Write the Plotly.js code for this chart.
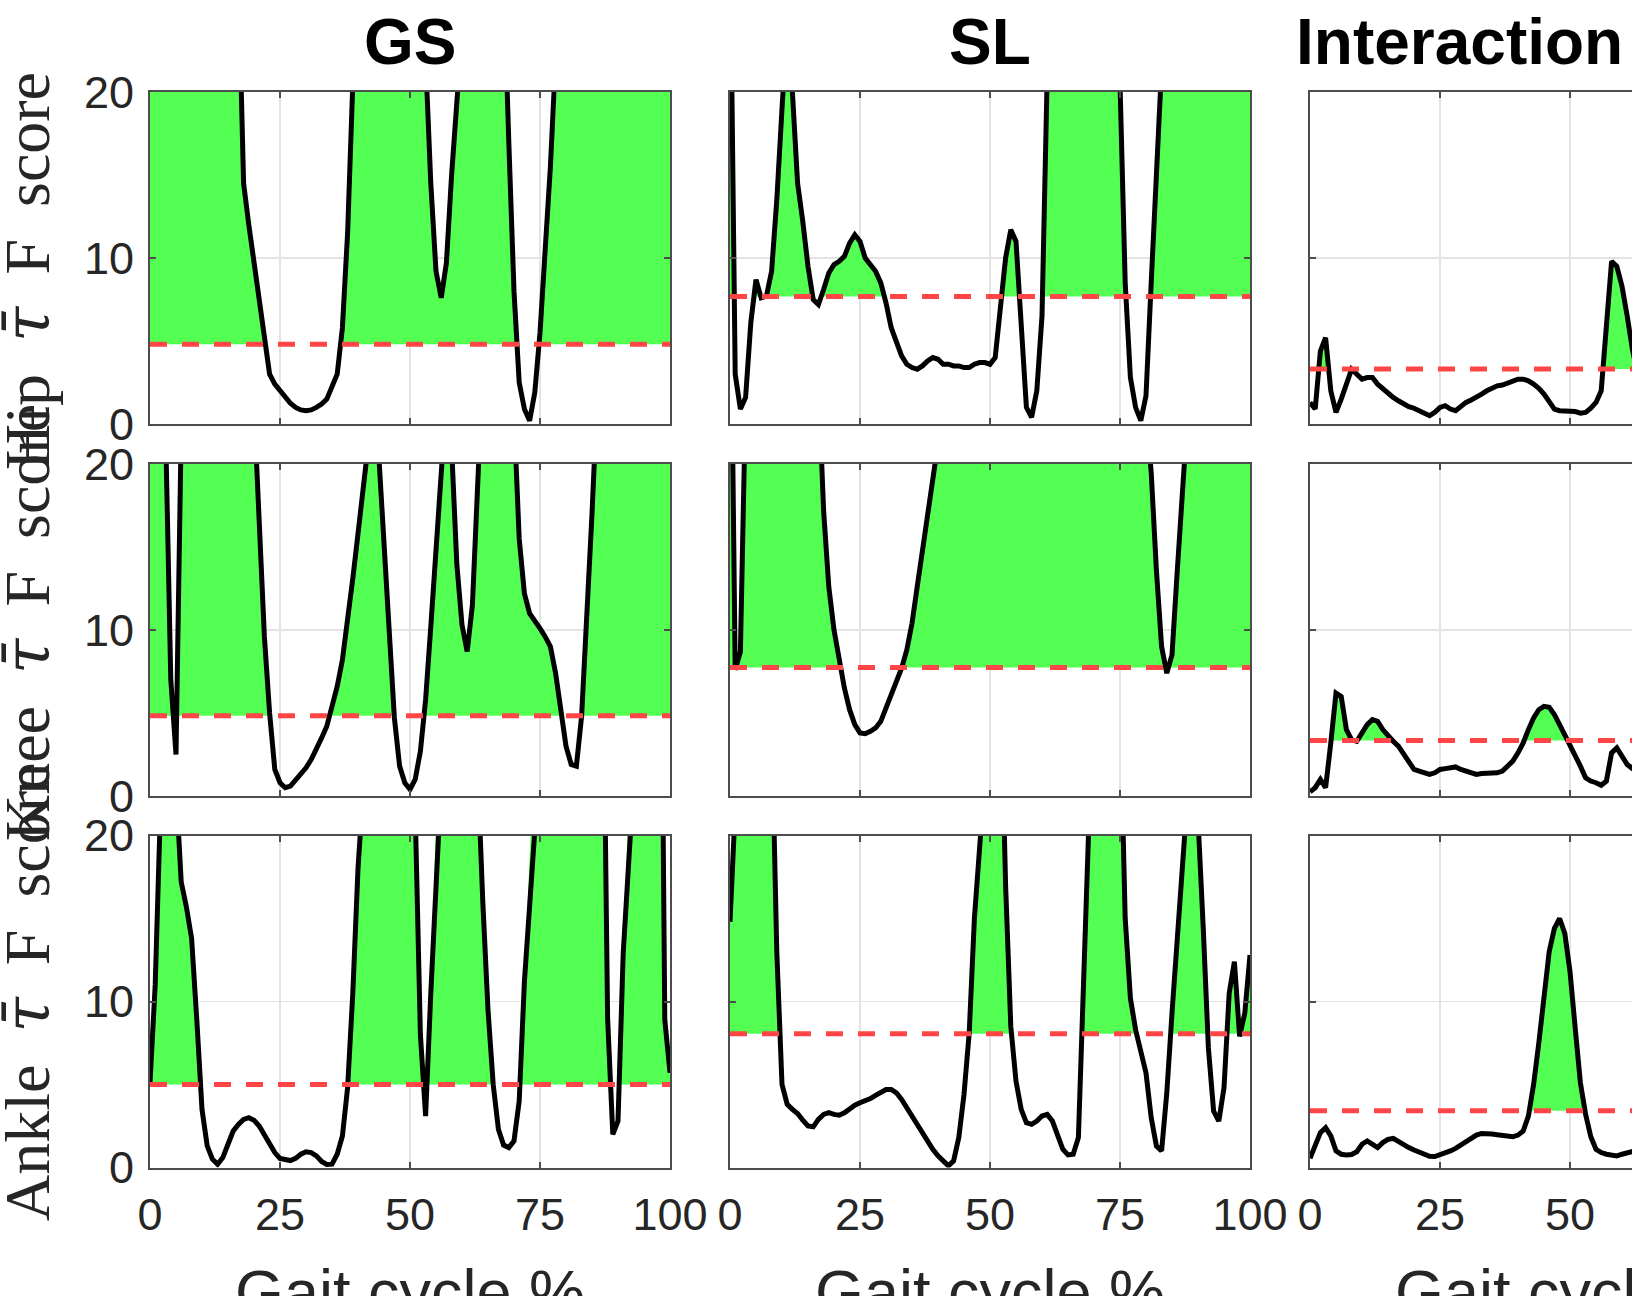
<!DOCTYPE html>
<html>
<head>
<meta charset="utf-8">
<script src="https://cdn.plot.ly/plotly-3.0.1.min.js"></script>
<style>
  html, body { margin: 0; padding: 0; overflow: hidden; background: #ffffff; }
  #chart { width: 1900px; height: 1296px; }
</style>
</head>
<body>
<div id="chart"></div>
<script>
// Gait cycle sample positions (percent)
const gaitPct = Array.from({ length: 101 }, (_, i) => i);

// Column titles, joint labels and tick labels
const columnTitles = ['GS', 'SL', 'Interaction'];
const jointNames = ['Hip', 'Knee', 'Ankle'];
const xLabelText = 'Gait cycle %';
const xTickVals = [0, 25, 50, 75, 100];
const xTickText = ['0', '25', '50', '75', '100'];
const yTickVals = [0, 10, 20];
const yTickText = ['0', '10', '20'];

// Critical F values (hip, knee, ankle) for each effect
const critGS = [4.8, 4.83, 5.0];
const critSL = [7.68, 7.74, 8.05];
const critInt = [3.32, 3.35, 3.42];

// F scores, GS effect
const gsHip = [48, 50, 52, 53, 54, 54, 53, 52, 50, 48, 46, 44, 42, 40, 38, 35, 31, 27, 14.5, 12.0,
  9.8, 7.6, 5.0, 3.0, 2.4, 2.0, 1.6, 1.25, 1.0, 0.85, 0.8, 0.85, 1.0, 1.2, 1.5, 2.2, 3.0, 5.8, 11.5, 20.5,
  30, 37, 42, 45, 47, 47, 46, 44, 41, 38, 35, 31, 27, 22, 14.5, 9.2, 7.6, 9.7, 15, 23,
  30, 35, 39, 41, 41, 39, 36, 32, 27, 17, 8, 2.5, 0.9, 0.2, 1.9, 5.5, 10, 15.5, 22, 30,
  36, 41, 45, 48, 50, 51, 52, 52, 51, 50, 49, 48, 47, 46, 45, 44, 43, 42, 41, 40, 39];
const gsKnee = [40, 45, 42, 22, 7.0, 2.5, 22, 35, 42, 45, 46, 46, 45, 43, 41, 38, 35, 32, 29, 27,
  23.5, 16.8, 9.6, 5.0, 1.6, 0.8, 0.5, 0.6, 0.95, 1.3, 1.7, 2.2, 2.8, 3.5, 4.2, 5.3, 6.6, 8.2, 10.5, 13.1,
  15.8, 18.4, 21.5, 24, 20.5, 15.6, 9.8, 4.7, 1.8, 0.8, 0.4, 1.0, 2.7, 5.8, 10.2, 14.8, 18.5, 24, 21, 14.0,
  10.3, 8.7, 11.5, 20.5, 30, 36, 40, 38, 34, 28, 23, 15.5, 12.2, 11.0, 10.6, 10.1, 9.6, 9.0, 7.4, 5.2,
  3.0, 1.9, 1.8, 4.8, 10.5, 17, 24, 30, 35, 39, 42, 44, 45, 45, 44, 43, 42, 41, 40, 39, 38];
const gsAnkle = [5.1, 11.0, 21.5, 30, 33, 23, 17.2, 15.7, 13.8, 8.9, 3.5, 1.3, 0.5, 0.2, 0.6, 1.4, 2.2, 2.6, 2.9, 3.0,
  2.85, 2.5, 2.0, 1.5, 0.9, 0.55, 0.45, 0.42, 0.55, 0.8, 0.95, 0.9, 0.7, 0.36, 0.18, 0.2, 0.8, 1.9, 4.8, 10.5,
  18.0, 26, 32, 37, 40, 42, 42, 40, 37, 33, 28, 21.5, 8.0, 3.1, 10.5, 21.0, 28, 33, 36, 37,
  36, 33, 29, 24, 16, 9.5, 5.0, 2.3, 1.35, 1.2, 1.6, 4.0, 11.2, 18.5, 26, 32, 37, 40, 42, 43,
  43, 42, 41, 40, 39, 38, 37, 35, 9.0, 2.0, 2.8, 12.9, 21.5, 30, 36, 40, 43, 44, 45, 8.9, 5.7];

// F scores, SL effect
const slHip = [30, 3.0, 0.9, 1.6, 6.1, 8.7, 7.6, 7.7, 9.2, 13.5, 19, 24, 20, 14.5, 12.2, 9.5, 7.5, 7.2, 8.1, 9.1,
  9.6, 9.8, 10.1, 10.9, 11.4, 11.0, 10.0, 9.6, 9.2, 8.5, 7.3, 5.8, 4.9, 4.1, 3.6, 3.4, 3.3, 3.5, 3.8, 4.0,
  3.9, 3.6, 3.6, 3.5, 3.5, 3.4, 3.4, 3.6, 3.7, 3.7, 3.6, 4.0, 7.0, 10.0, 11.7, 11.0, 6.0, 1.0, 0.4, 2.0,
  6.5, 21, 30, 36, 40, 42, 43, 43, 42, 40, 38, 35, 32, 28, 25, 20.5, 8.5, 2.8, 1.0, 0.2,
  1.7, 8.5, 15.5, 22, 28, 33, 37, 40, 42, 43, 44, 44, 44, 43, 42, 41, 40, 39, 38, 37, 36];
const slKnee = [35, 7.6, 8.7, 24, 33, 38, 41, 42, 42, 41, 40, 38, 36, 34, 32, 30, 28, 25, 17.2, 12.6,
  10.0, 8.2, 6.5, 5.2, 4.3, 3.8, 3.75, 3.9, 4.1, 4.5, 5.3, 6.1, 6.8, 7.7, 8.8, 10.4, 12.6, 15.0, 17.6, 20.3,
  23, 26, 29, 32, 35, 38, 40, 42, 43, 44, 45, 45, 46, 46, 46, 46, 45, 45, 44, 44,
  43, 43, 42, 41, 40, 39, 38, 37, 36, 35, 34, 33, 32, 31, 30, 29, 28, 27, 26, 25,
  23, 19.5, 13.6, 9.0, 7.4, 8.5, 13.5, 21, 28, 33, 37, 40, 42, 43, 44, 44, 44, 43, 42, 41, 40];
const slAnkle = [14.8, 28, 36, 40, 42, 41, 38, 33, 27, 13, 5.0, 3.8, 3.5, 3.25, 2.85, 2.5, 2.45, 2.9, 3.2, 3.3,
  3.2, 3.15, 3.3, 3.55, 3.75, 3.9, 4.0, 4.15, 4.35, 4.55, 4.7, 4.7, 4.5, 4.1, 3.6, 3.05, 2.5, 2.0, 1.5, 1.1,
  0.7, 0.35, 0.1, 0.4, 1.8, 4.4, 8.1, 15.0, 19.3, 26, 30, 32, 30, 17, 8.5, 5.2, 3.5, 2.7, 2.6, 2.8,
  3.1, 3.2, 2.8, 1.9, 1.1, 0.76, 0.8, 1.8, 10.9, 22, 30, 35, 37, 36, 33, 28, 15, 10.2, 8.3, 6.9,
  5.7, 3.0, 1.3, 1.0, 4.5, 9.3, 14.0, 17.8, 22.5, 26, 21, 14.5, 7.2, 3.4, 2.8, 4.8, 10.5, 12.4, 7.9, 9.3, 12.8];

// F scores, GS x SL interaction
const intHip = [1.3, 0.9, 4.4, 5.2, 2.0, 0.7, 1.5, 2.4, 3.3, 3.0, 2.7, 2.8, 2.8, 2.4, 2.1, 1.8, 1.6, 1.4, 1.2, 1.05,
  0.95, 0.8, 0.6, 0.5, 0.7, 1.0, 1.1, 0.9, 0.8, 1.1, 1.3, 1.45, 1.6, 1.8, 2.0, 2.15, 2.3, 2.35, 2.45, 2.6,
  2.7, 2.7, 2.6, 2.4, 2.15, 1.8, 1.3, 0.9, 0.8, 0.8, 0.8, 0.75, 0.65, 0.7, 0.95, 1.3, 2.0, 6.3, 9.8, 9.5,
  8.3, 6.5, 4.5, 3.0];
const intKnee = [0.25, 0.5, 1.0, 0.5, 3.2, 6.2, 6.0, 4.0, 3.4, 3.3, 3.8, 4.3, 4.6, 4.5, 4.0, 3.6, 3.3, 3.0, 2.5, 2.0,
  1.6, 1.5, 1.4, 1.3, 1.4, 1.6, 1.65, 1.7, 1.75, 1.6, 1.5, 1.4, 1.3, 1.35, 1.37, 1.38, 1.4, 1.5, 1.8, 2.1,
  2.6, 3.2, 4.0, 4.7, 5.2, 5.4, 5.35, 4.9, 4.3, 3.7, 3.1, 2.5, 1.8, 1.1, 0.9, 0.8, 0.65, 0.9, 2.6, 2.9,
  2.4, 1.9, 1.65, 1.5];
const intAnkle = [0.55, 1.4, 2.1, 2.4, 1.9, 1.0, 0.8, 0.76, 0.78, 0.95, 1.4, 1.6, 1.4, 1.2, 1.5, 1.7, 1.75, 1.55, 1.35, 1.2,
  1.05, 0.9, 0.8, 0.68, 0.66, 0.75, 0.85, 1.0, 1.15, 1.35, 1.6, 1.8, 1.95, 2.05, 2.07, 2.02, 1.97, 1.92, 1.87, 1.85,
  1.95, 2.2, 3.1, 5.0, 7.5, 10.6, 13.0, 14.4, 15.0, 14.1, 11.8, 8.4, 5.1, 3.2, 1.85, 1.1, 0.9, 0.8, 0.72, 0.7,
  0.8, 0.87, 0.96, 1.05];

// Grid of panels: rows = joints, columns = effects
const panelRows = [
  [{ f: gsHip, crit: critGS[0] }, { f: slHip, crit: critSL[0] }, { f: intHip, crit: critInt[0] }],
  [{ f: gsKnee, crit: critGS[1] }, { f: slKnee, crit: critSL[1] }, { f: intKnee, crit: critInt[1] }],
  [{ f: gsAnkle, crit: critGS[2] }, { f: slAnkle, crit: critSL[2] }, { f: intAnkle, crit: critInt[2] }]
];

// Figure geometry (pixels)
const FIG_W = 1900, FIG_H = 1296;
const colLeft = [150, 730, 1310], colWidth = 520;
const rowTop = [92, 464, 835.5], rowHeight = 332;

const GREEN = '#54ff54';
const RED = '#ff4545';
const AXIS_GRAY = '#4d4d4d';
const TEXT_COLOR = '#262626';
const SANS = 'Liberation Sans, Arial, Helvetica, sans-serif';
const SERIF = 'Liberation Serif, Times New Roman, serif';

// Region between the critical value and the F curve wherever the curve exceeds it
function exceedPolygons(xs, ys, thr) {
  const px = [], py = [];
  let open = false;
  for (let i = 0; i < xs.length; i++) {
    const above = ys[i] > thr;
    if (above) {
      if (!open) {
        let xStart = xs[i];
        if (i > 0) {
          const t = (thr - ys[i - 1]) / (ys[i] - ys[i - 1]);
          xStart = xs[i - 1] + t * (xs[i] - xs[i - 1]);
        }
        px.push(xStart); py.push(thr);
        open = true;
      }
      px.push(xs[i]); py.push(ys[i]);
    } else if (open) {
      const t = (thr - ys[i - 1]) / (ys[i] - ys[i - 1]);
      const xEnd = xs[i - 1] + t * (xs[i] - xs[i - 1]);
      px.push(xEnd); py.push(thr);
      px.push(null); py.push(null);
      open = false;
    }
  }
  if (open) { px.push(xs[xs.length - 1]); py.push(thr); }
  return { x: px, y: py };
}

const axisBase = {
  showline: true, linecolor: AXIS_GRAY, linewidth: 2, mirror: 'ticks',
  ticks: 'inside', ticklen: 6, tickwidth: 2, tickcolor: AXIS_GRAY,
  showgrid: true, gridcolor: '#e3e3e3', gridwidth: 1.5,
  zeroline: false, fixedrange: true,
  tickfont: { family: SANS, size: 45, color: TEXT_COLOR }
};

const traces = [];
const layout = {
  width: FIG_W, height: FIG_H,
  margin: { l: 0, r: 0, t: 0, b: 0 },
  showlegend: false,
  paper_bgcolor: '#ffffff', plot_bgcolor: '#ffffff',
  font: { family: SANS, color: TEXT_COLOR },
  annotations: []
};

panelRows.forEach((row, r) => {
  row.forEach((panel, c) => {
    const k = r * 3 + c + 1;
    const sfx = k === 1 ? '' : String(k);
    const xs = gaitPct.slice(0, panel.f.length);

    const poly = exceedPolygons(xs, panel.f, panel.crit);
    traces.push({
      type: 'scatter', mode: 'lines', x: poly.x, y: poly.y,
      fill: 'toself', fillcolor: GREEN, line: { width: 0, color: GREEN },
      hoverinfo: 'skip', xaxis: 'x' + sfx, yaxis: 'y' + sfx
    });
    traces.push({
      type: 'scatter', mode: 'lines', x: xs, y: panel.f,
      line: { color: '#000000', width: 5 },
      xaxis: 'x' + sfx, yaxis: 'y' + sfx
    });
    traces.push({
      type: 'scatter', mode: 'lines', x: [0, 100], y: [panel.crit, panel.crit],
      line: { color: RED, width: 5, dash: '17px,15px' },
      xaxis: 'x' + sfx, yaxis: 'y' + sfx
    });

    const left = colLeft[c], top = rowTop[r];
    layout['xaxis' + sfx] = Object.assign({}, axisBase, {
      domain: [left / FIG_W, (left + colWidth) / FIG_W],
      range: [0, 100], tickmode: 'array', tickvals: xTickVals, ticktext: xTickText,
      showticklabels: r === 2, ticklabelstandoff: 6, anchor: 'y' + sfx
    });
    layout['yaxis' + sfx] = Object.assign({}, axisBase, {
      domain: [1 - (top + rowHeight) / FIG_H, 1 - top / FIG_H],
      range: [0, 20], tickmode: 'array', tickvals: yTickVals, ticktext: yTickText,
      showticklabels: c === 0, ticklabelstandoff: 5, anchor: 'x' + sfx
    });
  });
});

// Column titles
const titleCenters = [410, 990, 1459];
columnTitles.forEach((t, c) => {
  layout.annotations.push({
    xref: 'paper', yref: 'paper', x: titleCenters[c] / FIG_W, y: 1 - 42 / FIG_H,
    xanchor: 'center', yanchor: 'middle', showarrow: false,
    text: '<b>' + t + '</b>', font: { family: SANS, size: 64, color: '#000000' }
  });
});

// Joint labels on the left (rotated); the barred tau uses a font with mark positioning
const SP = '\u2002';
const tauBar = '<span style="font-family:DejaVu Serif"><i>\u03C4\u0304</i></span>';
const labelCenters = [271, 623, 992];
jointNames.forEach((j, r) => {
  layout.annotations.push({
    xref: 'paper', yref: 'paper', x: 27 / FIG_W, y: 1 - labelCenters[r] / FIG_H,
    xanchor: 'center', yanchor: 'middle', showarrow: false, textangle: -90,
    text: j + SP + tauBar + SP + 'F' + SP + 'score',
    font: { family: SERIF, size: 64, color: TEXT_COLOR }
  });
});

// Horizontal axis labels under the bottom row
colLeft.forEach((left) => {
  layout.annotations.push({
    xref: 'paper', yref: 'paper', x: (left + colWidth / 2) / FIG_W, y: 1 - 1255 / FIG_H,
    xanchor: 'center', yanchor: 'top', showarrow: false,
    text: xLabelText, font: { family: SANS, size: 63, color: TEXT_COLOR }
  });
});

Plotly.newPlot('chart', traces, layout, { staticPlot: true, displayModeBar: false });
</script>
</body>
</html>
